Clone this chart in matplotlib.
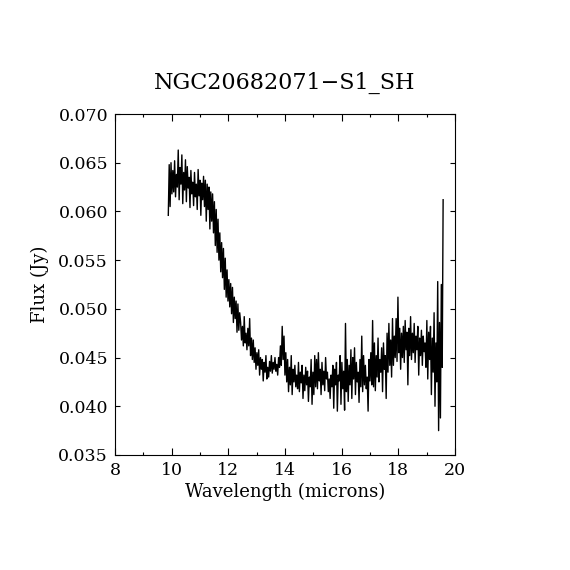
import numpy as np
import matplotlib
matplotlib.use("Agg")
import matplotlib.pyplot as plt
from matplotlib.ticker import MultipleLocator, FormatStrFormatter

# Flux values in units of 1e-3 Jy
flux_mjy = [
    59.6, 64.8, 60.5, 65.0, 61.8, 64.2, 62.0, 65.2, 61.5, 63.8,
    62.5, 66.3, 61.2, 64.5, 62.8, 65.8, 60.8, 64.0, 62.2, 65.3,
    61.0, 64.6, 62.4, 63.5, 60.4, 64.2, 61.8, 63.0, 60.6, 64.0,
    61.5, 62.8, 60.2, 64.3, 61.6, 63.2, 59.6, 62.9, 61.2, 63.6,
    60.5, 63.2, 59.0, 62.8, 60.2, 62.5, 58.2, 62.0, 59.0, 61.8,
    57.8, 61.0, 56.5, 60.2, 55.8, 59.2, 55.0, 57.8, 53.8, 56.8,
    53.2, 56.2, 52.0, 55.2, 51.2, 54.0, 50.8, 53.0, 50.2, 52.6,
    49.5, 52.2, 48.6, 51.2, 49.0, 50.8, 47.6, 50.5, 47.8, 49.6,
    48.6, 46.8, 48.2, 46.2, 49.2, 46.5, 47.5, 45.8, 48.0, 46.2,
    49.0, 45.2, 47.0, 44.8, 46.8, 44.5, 46.0, 43.8, 45.5, 44.2,
    45.8, 43.2, 45.0, 43.8, 44.8, 42.6, 44.5, 43.5, 45.2, 42.8,
    44.0, 43.0, 44.6, 43.6, 45.2, 43.4, 44.5, 43.8, 45.0, 43.6,
    44.3, 43.2, 45.0, 44.0, 46.2, 44.2, 48.2, 44.8, 47.2, 43.2,
    45.5, 42.5, 44.8, 41.5, 44.0, 42.2, 45.2, 41.2, 43.8, 42.5,
    44.2, 42.0, 43.2, 41.8, 44.5, 41.5, 43.5, 42.4, 44.2, 40.8,
    43.2, 41.6, 44.0, 42.2, 43.6, 40.5, 43.0, 42.0, 44.8, 40.2,
    43.5, 41.2, 45.2, 42.0, 44.8, 41.8, 45.5, 42.6, 43.8, 41.2,
    44.5, 42.2, 43.6, 41.6, 45.0, 42.8, 43.5, 41.5, 42.8, 40.8,
    43.2, 42.0, 44.2, 39.8, 43.8, 42.2, 44.5, 39.5, 43.2, 42.6,
    45.2, 40.2, 44.5, 41.8, 43.6, 39.6, 48.5, 41.5, 44.8, 40.5,
    44.2, 42.2, 45.8, 40.8, 45.0, 42.8, 46.0, 41.2, 44.5, 42.5,
    43.5, 40.4, 44.8, 42.0, 47.2, 41.5, 45.2, 42.2, 44.2, 41.8,
    43.0, 39.5, 44.8, 42.6, 45.5, 42.2, 48.8, 42.0, 46.5, 41.6,
    45.2, 43.0, 47.0, 42.5, 44.8, 43.5, 46.0, 41.5, 46.5, 43.8,
    45.2, 40.8, 47.5, 43.5, 48.5, 44.2, 46.8, 43.0, 49.0, 44.2,
    47.2, 45.0, 49.0, 44.6, 51.2, 45.5, 48.0, 43.8, 47.5, 45.0,
    48.2, 44.5, 48.8, 45.8, 47.6, 42.2, 48.0, 45.2, 49.2, 44.8,
    47.5, 45.5, 48.5, 44.5, 47.2, 45.8, 48.2, 43.2, 47.0, 45.2,
    47.8, 44.2, 47.2, 45.6, 46.5, 44.0, 48.8, 42.8, 47.6, 44.8,
    48.2, 41.2, 47.0, 43.5, 49.6, 40.0, 46.5, 42.5, 52.8, 37.5,
    48.6, 38.8, 52.5, 44.0, 61.2,
]
wave_start = 9.88
wave_end = 19.58
wavelength = np.linspace(wave_start, wave_end, len(flux_mjy))
flux = np.array(flux_mjy) / 1000.0

title = "NGC20682071\u2212S1_SH"
xlabel = "Wavelength (microns)"
ylabel = "Flux (Jy)"

plt.rcParams['font.family'] = ['DejaVu Serif']

fig = plt.figure(figsize=(5.7, 5.7), dpi=100)
ax = fig.add_axes([0.2018, 0.2018, 0.5965, 0.5982])
ax.plot(wavelength, flux, color='black', linewidth=1.0)

ax.set_xlim(8, 20)
ax.set_ylim(0.035, 0.070)
ax.xaxis.set_major_locator(MultipleLocator(2))
ax.xaxis.set_minor_locator(MultipleLocator(1))
ax.yaxis.set_major_locator(MultipleLocator(0.005))
ax.yaxis.set_major_formatter(FormatStrFormatter('%.3f'))

ax.tick_params(axis='both', which='both', direction='in', top=True, right=True,
               labelsize=12.5, width=0.8, colors='black')
ax.tick_params(axis='x', which='major', length=5, pad=5)
ax.tick_params(axis='x', which='minor', length=2.5)
ax.tick_params(axis='y', which='major', length=3.6, pad=5)
for s in ax.spines.values():
    s.set_linewidth(0.8)

ax.set_title(title, fontsize=16, pad=18)
ax.set_xlabel(xlabel, fontsize=13, labelpad=3)
ax.set_ylabel(ylabel, fontsize=13, labelpad=7)

fig.savefig("out.png", dpi=100, facecolor='white')
